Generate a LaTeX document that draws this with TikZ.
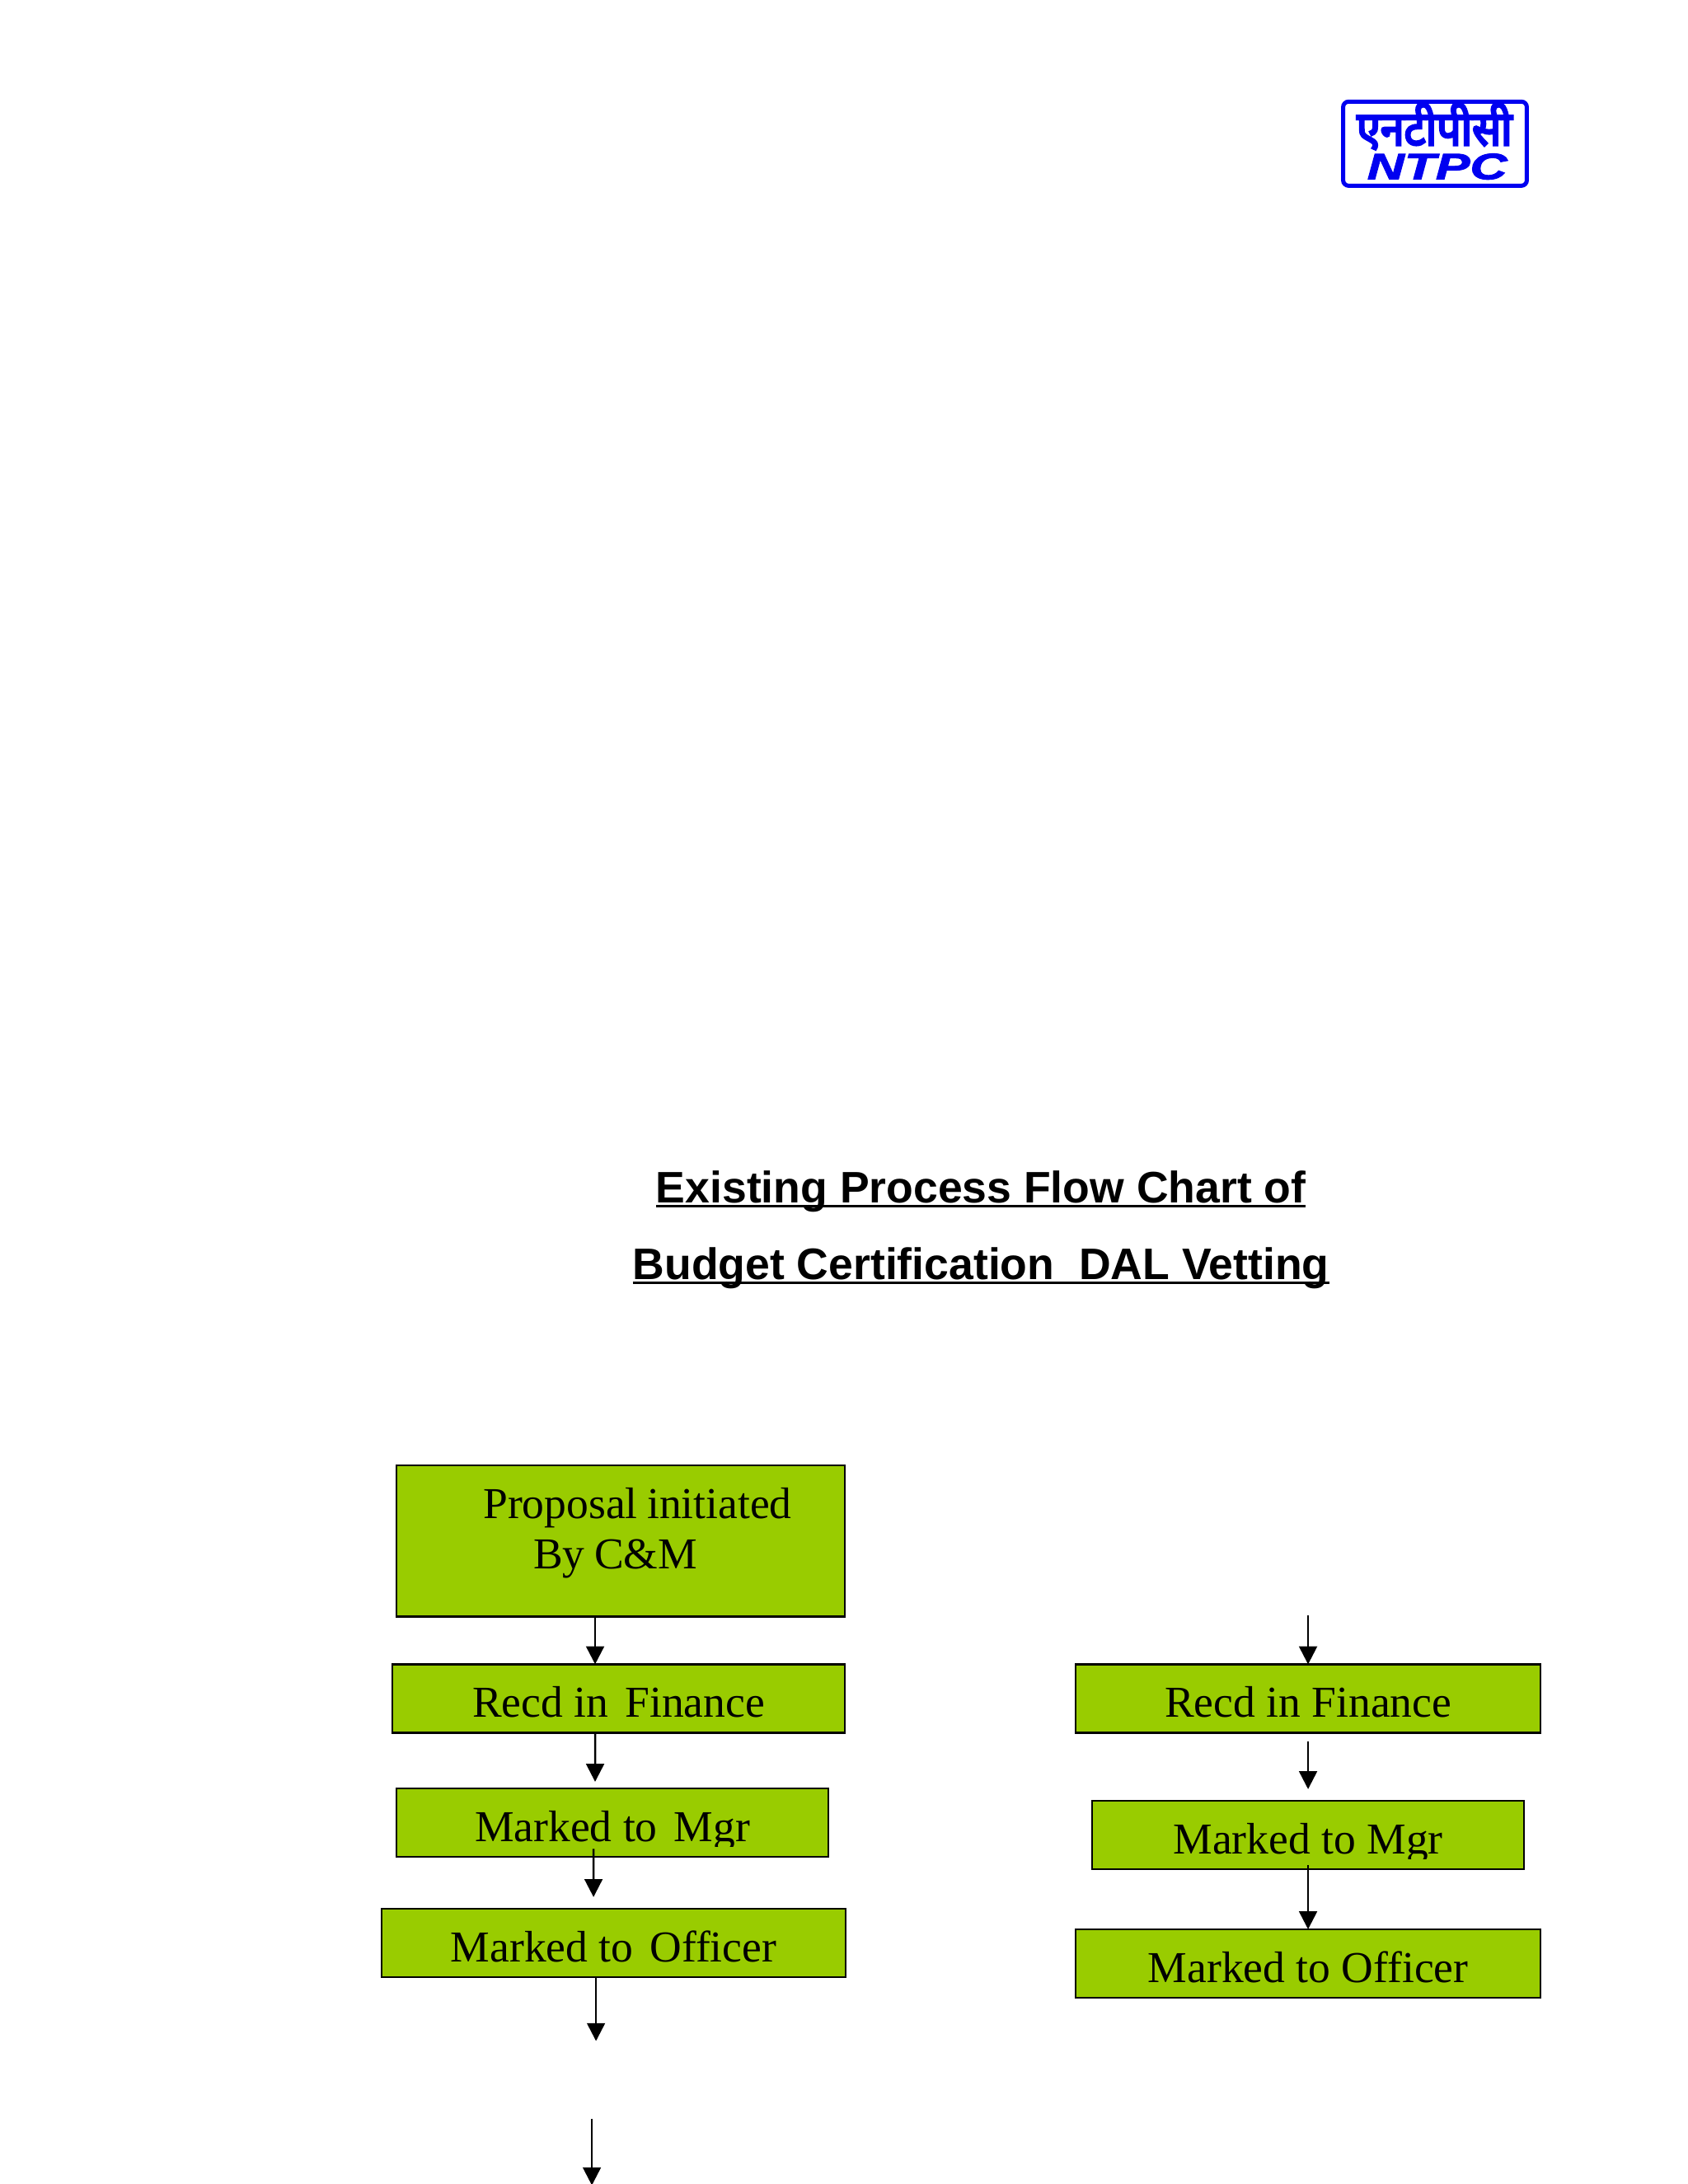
\documentclass[tikz,border=0pt]{standalone}
\usepackage{fontspec}
\setmainfont{Liberation Serif}
\newfontfamily\titlefont{Liberation Sans}
\newfontfamily\logofont[UprightFont=* Bold Italic,FakeBold=2]{Liberation Sans}
\newfontfamily\devafont[Script=Devanagari,FakeBold=5]{Noto Sans}
\usetikzlibrary{arrows.meta}
\definecolor{boxgreen}{HTML}{99CC00}
\definecolor{logoblue}{HTML}{0000F0}
\newcommand{\gapx}{\hspace{2pt}}
\newcommand{\titleline}[1]{\setbox0=\hbox{#1}\rlap{\rule[-1.6pt]{\wd0}{.8pt}}\box0}

\begin{document}
\begin{tikzpicture}[x=1pt,y=1pt,node distance={45pt},
    flow/.style={draw, fill=boxgreen, line width=.8pt, inner sep=0pt, text height=19.2pt, text depth=5.6pt, font=\fontsize{16}{18.2}\selectfont},
    narrow/.style={flow, minimum width=156.6pt},
    wide/.style={flow, minimum width=168.5pt},
    flowarrow/.style={line width=.75pt, shorten >=-.4pt, -{Triangle[length=6.5pt,width=6.5pt]}}]
    \useasboundingbox (0,0) rectangle (611.9,791.8);

    \node[draw=logoblue, line width=1.5pt, rounded corners=2pt, minimum width=66.6pt, minimum height=30.5pt, inner sep=0pt] (logo) at (520.2,739.7) {};
    \node[text=logoblue, inner sep=0pt, font=\devafont\fontsize{15.5}{16}\selectfont] (hindi) at (520.0,746.0) {\scalebox{1.0}[1.1]{एनटीपीसी}};
    \node[text=logoblue, inner sep=0pt, font=\logofont\fontsize{13.3}{14}\selectfont] (ntpc) [below of=hindi, xshift=1pt, yshift=30.4pt] {\scalebox{1.4}[1]{NTPC}};

    \node[align=center, inner sep=0pt, font=\titlefont\bfseries\fontsize{16}{27.8}\selectfont] (title) at (355.6,346) {\titleline{Existing Process Flow Chart of}\\\titleline{Budget Certification\ \ DAL Vetting}};

    \node[draw, fill=boxgreen, line width=.8pt, inner sep=0pt, text width=162.6pt, align=left, font=\fontsize{16}{18.2}\selectfont] (prop) at (225.0,233.1) {\rule{0pt}{19.4pt}\hspace*{31.5pt}Proposal\hspace{3.4pt}initiated\\\hspace*{49.7pt}By\hspace{3.4pt}C\&M\rule[-17.3pt]{0pt}{17.3pt}};
    \node[flow, minimum width=164pt] (recdA) [below of=prop, xshift=-.75pt, yshift=-12.07pt] {Recd in\gapx{} Finance};
    \node[narrow] (mgrA) [below of=recdA, xshift=-2.24pt] {Marked to\gapx{} Mgr};
    \node[flow, minimum width=168.2pt] (offA) [below of=mgrA, xshift=.45pt, yshift=1.4pt] {Marked to\gapx{} Officer};

    \node[wide] (recdB) at (474.2,176) {Recd in Finance};
    \node[narrow] (mgrB) [below of=recdB, yshift=-4.45pt] {Marked to Mgr};
    \node[wide] (offB) [below of=mgrB, yshift=-1.6pt] {Marked to Officer};

    \fill[boxgreen] ([xshift=.8pt,yshift=.8pt]mgrA.south west) rectangle ([xshift=-.8pt,yshift=4pt]mgrA.south east);
    \fill[boxgreen] ([xshift=.8pt,yshift=.8pt]mgrB.south west) rectangle ([xshift=-.8pt,yshift=4pt]mgrB.south east);

    \coordinate (tipA) at ([xshift=-6.27pt,yshift=2.4pt]mgrA.north);
    \coordinate (tipB) at ([xshift=-7.3pt,yshift=4.2pt]offA.north);
    \coordinate (tipC) at ([xshift=-6.4pt,yshift=-22.4pt]offA.south);
    \coordinate (startD) at ([xshift=-7.9pt,yshift=-51pt]offA.south);
    \coordinate (tipD) at ([xshift=-7.9pt,yshift=-74.7pt]offA.south);
    \coordinate (startE) at ([yshift=17.3pt]recdB.north);
    \coordinate (tipF) at ([yshift=4.2pt]mgrB.north);

    \draw[flowarrow] ([xshift=-9.26pt]prop.south) -- ([xshift=-8.51pt]recdA.north);
    \draw[flowarrow] ([xshift=-8.51pt]recdA.south) -- (tipA);
    \draw[flowarrow] ([xshift=-6.87pt,yshift=3.3pt]mgrA.south) -- (tipB);
    \draw[flowarrow] ([xshift=-6.4pt]offA.south) -- (tipC);
    \draw[flowarrow] (startD) -- (tipD);

    \draw[flowarrow] (startE) -- (recdB.north);
    \draw[flowarrow] ([yshift=-2.7pt]recdB.south) -- (tipF);
    \draw[flowarrow] ([yshift=1.8pt]mgrB.south) -- (offB.north);
\end{tikzpicture}
\end{document}
